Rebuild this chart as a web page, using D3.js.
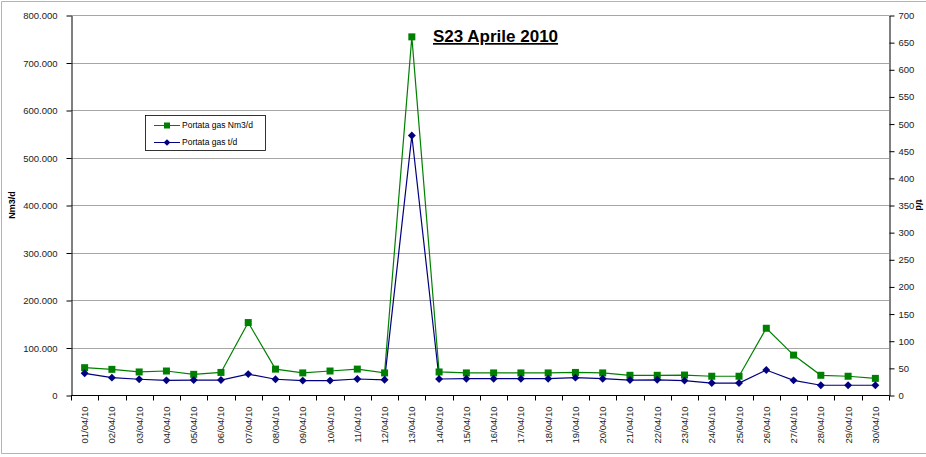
<!DOCTYPE html>
<html>
<head>
<meta charset="utf-8">
<script src="https://cdn.jsdelivr.net/npm/d3@7"></script>
<style>
  body { margin: 0; background: #fff; }
  svg text { font-family: "Liberation Sans", Arial, sans-serif; }
</style>
</head>
<body>
<div id="svgzone"></div>
<script>
// data
let days = ["01/04/10","02/04/10","03/04/10","04/04/10","05/04/10","06/04/10","07/04/10","08/04/10","09/04/10","10/04/10",
    "11/04/10","12/04/10","13/04/10","14/04/10","15/04/10","16/04/10","17/04/10","18/04/10","19/04/10","20/04/10",
    "21/04/10","22/04/10","23/04/10","24/04/10","25/04/10","26/04/10","27/04/10","28/04/10","29/04/10","30/04/10"];
let gasNm3 = [57500, 54000, 48500, 50500, 43500, 47500, 152500, 54500, 46500, 50500,
    54500, 46500, 754000, 48500, 46500, 46500, 46500, 46500, 47500, 46500,
    41500, 41500, 42000, 39500, 39500, 140500, 84000, 41500, 39500, 35000];
let gasTd = [40, 32, 29, 27, 27.5, 27.5, 38.5, 29, 26.5, 26.5,
    29.5, 28, 478, 29.5, 30, 30, 30, 30, 32, 30,
    27.5, 28, 26.5, 22, 22, 46, 27, 18, 18, 18];
let leftTicks = [0, 100000, 200000, 300000, 400000, 500000, 600000, 700000, 800000];
let rightTicks = [0, 50, 100, 150, 200, 250, 300, 350, 400, 450, 500, 550, 600, 650, 700];

let W = 926, H = 457;
let plot = { left: 71, right: 889, top: 15, bottom: 395 };

let svg = d3.select("#svgzone")
    .append("svg")
    .attr("width", W)
    .attr("height", H);

// chart border
svg.append("path")
    .attr("d", "M928,1.5 H1.5 V453.5 H928")
    .attr("fill", "none")
    .attr("stroke", "#b4b4b4")
    .attr("stroke-width", 1);

let it = d3.formatLocale({ decimal: ",", thousands: ".", grouping: [3], currency: ["€", ""] });
let fmt = it.format(",.0f");

let x = d3.scaleBand()
    .domain(days)
    .range([plot.left, plot.right]);

let yL = d3.scaleLinear()
    .domain([0, 800000])
    .range([plot.bottom, plot.top]);

let yR = d3.scaleLinear()
    .domain([0, 700])
    .range([plot.bottom, plot.top]);

// gridlines
svg.append("g")
    .selectAll("line")
    .data(leftTicks.slice(1))
    .enter()
    .append("line")
    .attr("x1", plot.left)
    .attr("x2", plot.right)
    .attr("y1", function (d) { return Math.round(yL(d)) + 0.5 })
    .attr("y2", function (d) { return Math.round(yL(d)) + 0.5 })
    .attr("stroke", "#a6a6a6");

// left axis
let gL = svg.append("g")
    .attr("transform", "translate(" + (plot.left + 0.5) + ",0.5)")
    .call(d3.axisLeft(yL).tickValues(leftTicks).tickFormat(fmt).tickSize(5).tickPadding(9).tickSizeOuter(0));
gL.select(".domain").attr("stroke", "#000");
gL.selectAll(".tick line").attr("stroke", "#000");
gL.selectAll("text").attr("font-size", 9.5).attr("fill", "#222");

// right axis
let gR = svg.append("g")
    .attr("transform", "translate(" + (plot.right + 0.5) + ",0.5)")
    .call(d3.axisRight(yR).tickValues(rightTicks).tickSize(5).tickPadding(4).tickSizeOuter(0));
gR.select(".domain").attr("stroke", "#000");
gR.selectAll(".tick line").attr("stroke", "#000");
gR.selectAll("text").attr("font-size", 9.5).attr("fill", "#222");

// bottom axis
let gB = svg.append("g")
    .attr("transform", "translate(0," + (plot.bottom + 0.5) + ")");
gB.append("line")
    .attr("x1", plot.left)
    .attr("x2", plot.right)
    .attr("stroke", "#000");
gB.selectAll("tickmarks")
    .data(days.concat(["end"]))
    .enter()
    .append("line")
    .attr("x1", function (d, i) { return Math.round(plot.left + i * x.step()) + 0.5 })
    .attr("x2", function (d, i) { return Math.round(plot.left + i * x.step()) + 0.5 })
    .attr("y1", 0)
    .attr("y2", 5)
    .attr("stroke", "#000");
gB.selectAll("daylabels")
    .data(days)
    .enter()
    .append("text")
    .attr("transform", function (d) { return "translate(" + (x(d) + x.bandwidth() / 2 + 3.5) + ",11) rotate(-90)" })
    .attr("text-anchor", "end")
    .attr("font-size", 9.5)
    .attr("fill", "#222")
    .text(function (d) { return d });

// axis titles
svg.append("text")
    .attr("transform", "translate(15," + ((plot.top + plot.bottom) / 2) + ") rotate(-90)")
    .attr("text-anchor", "middle")
    .attr("font-size", 9)
    .attr("font-weight", "bold")
    .text("Nm3/d");

svg.append("text")
    .attr("transform", "translate(916," + ((plot.top + plot.bottom) / 2) + ") rotate(90)")
    .attr("text-anchor", "middle")
    .attr("font-size", 9)
    .attr("font-weight", "bold")
    .text("t/d");

// lines
let cx = function (d, i) { return x(days[i]) + x.bandwidth() / 2 };

svg.append("path")
    .datum(gasNm3)
    .attr("fill", "none")
    .attr("stroke", "#008000")
    .attr("stroke-width", 1.2)
    .attr("d", d3.line().x(cx).y(function (d) { return yL(d) }));

svg.append("path")
    .datum(gasTd)
    .attr("fill", "none")
    .attr("stroke", "#000080")
    .attr("stroke-width", 1.2)
    .attr("d", d3.line().x(cx).y(function (d) { return yR(d) }));

// markers
svg.append("g")
    .selectAll("rect")
    .data(gasNm3)
    .enter()
    .append("rect")
    .attr("x", function (d, i) { return cx(d, i) - 3.5 })
    .attr("y", function (d) { return yL(d) - 3.5 })
    .attr("width", 7)
    .attr("height", 7)
    .attr("fill", "#008000");

let diamond = d3.symbol().type(d3.symbolDiamond2).size(40);
svg.append("g")
    .selectAll("path")
    .data(gasTd)
    .enter()
    .append("path")
    .attr("transform", function (d, i) { return "translate(" + cx(d, i) + "," + yR(d) + ")" })
    .attr("d", diamond)
    .attr("fill", "#000080");

// title
svg.append("text")
    .attr("x", 433)
    .attr("y", 42)
    .attr("font-size", 17)
    .attr("font-weight", "bold")
    .attr("text-decoration", "underline")
    .text("S23 Aprile 2010");

// legend
let legend = svg.append("g").attr("transform", "translate(145,115)");
legend.append("rect")
    .attr("x", 0.5)
    .attr("y", 0.5)
    .attr("width", 120)
    .attr("height", 35)
    .attr("fill", "#fff")
    .attr("stroke", "#000")
    .attr("stroke-width", 0.8);
let legendKeys = ["Portata gas Nm3/d", "Portata gas t/d"];
let legendColors = ["#008000", "#000080"];
legendKeys.forEach(function (k, i) {
    let ly = 10.5 + i * 17;
    legend.append("line")
        .attr("x1", 9).attr("x2", 35)
        .attr("y1", ly).attr("y2", ly)
        .attr("stroke", legendColors[i]);
    if (i == 0) {
        legend.append("rect")
            .attr("x", 19).attr("y", ly - 3)
            .attr("width", 6).attr("height", 6)
            .attr("fill", legendColors[i]);
    } else {
        legend.append("path")
            .attr("transform", "translate(22," + ly + ")")
            .attr("d", d3.symbol().type(d3.symbolDiamond2).size(28))
            .attr("fill", legendColors[i]);
    }
    legend.append("text")
        .attr("x", 37)
        .attr("y", ly)
        .attr("dy", "0.35em")
        .attr("font-size", 8.5)
        .text(k);
});
</script>
</body>
</html>
